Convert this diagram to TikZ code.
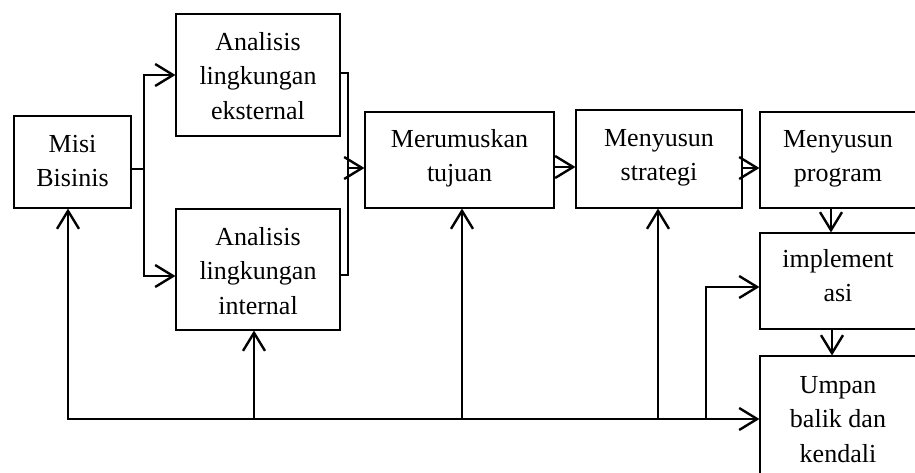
\documentclass[tikz,border=0pt]{standalone}
\usepackage{fontspec}
\setmainfont{Liberation Serif}
\usetikzlibrary{arrows.meta}
\begin{document}
\begin{tikzpicture}[x=1pt,y=-1pt,
  box/.style={draw, line width=1.1pt, inner sep=0pt},
  txt/.style={inner sep=0pt, anchor=base, font=\fontsize{26}{34.5}\selectfont},
  conn/.style={line width=2.4pt},
  barb/.tip={Straight Barb[length=18pt,width=22pt]},
  arr/.style={conn, -barb}]
\clip (0,0) rectangle (915,472);
% boxes
\node[box, minimum width=117pt, minimum height=92pt]  (misi) at (72.5,162) {};
\node[box, minimum width=164pt, minimum height=122pt] (eks)  at (258,75) {};
\node[box, minimum width=164pt, minimum height=121pt] (int)  at (258,269.5) {};
\node[box, minimum width=189pt, minimum height=96pt]  (mer)  at (459.5,160) {};
\node[box, minimum width=166pt, minimum height=98pt]  (str)  at (659,159) {};
\node[box, minimum width=157pt, minimum height=96pt]  (prog) at (838.5,160) {};
\node[box, minimum width=157pt, minimum height=96pt]  (impl) at (838.5,281) {};
\node[box, minimum width=157pt, minimum height=134pt] (ump)  at (838.5,423) {};
% texts
\node[txt] (misiT) at (72.5,152) {\begin{tabular}[t]{@{}c@{}}Misi\\Bisinis\end{tabular}};
\node[txt] (eksT)  at (258,50) {\begin{tabular}[t]{@{}c@{}}Analisis\\lingkungan\\eksternal\end{tabular}};
\node[txt] (intT)  at (258,245) {\begin{tabular}[t]{@{}c@{}}Analisis\\lingkungan\\internal\end{tabular}};
\node[txt] (merT)  at (459.5,147) {\begin{tabular}[t]{@{}c@{}}Merumuskan\\tujuan\end{tabular}};
\node[txt] (strT)  at (659,146) {\begin{tabular}[t]{@{}c@{}}Menyusun\\strategi\end{tabular}};
\node[txt] (progT) at (838,147) {\begin{tabular}[t]{@{}c@{}}Menyusun\\program\end{tabular}};
\node[txt] (implT) at (838,267) {\begin{tabular}[t]{@{}c@{}}implement\\asi\end{tabular}};
\node[txt] (umpT)  at (838,393) {\begin{tabular}[t]{@{}c@{}}Umpan\\balik dan\\kendali\end{tabular}};
% junctions
\coordinate (j1) at (144,169);
\coordinate (jt) at (144,75);
\coordinate (jb) at (144,276);
\coordinate (k1) at (348,73);
\coordinate (k2) at (348,275);
\coordinate (k3) at (348,168);
\coordinate (b0) at (68,419);
\coordinate (b1) at (254,419);
\coordinate (b2) at (462,419);
\coordinate (b3) at (658,419);
\coordinate (b4) at (706,420);
\coordinate (b5) at (706,287);
% connectors
\draw[arr] (misi.east |- j1) -- (j1) -- (jt) -- (eks.west |- jt);
\draw[arr] (j1) -- (jb) -- (int.west |- jb);
\draw[conn] (eks.east |- k1) -- (k1) -- (k2) -- (int.east |- k2);
\draw[arr] (k3) -- (mer.west |- k3);
\draw[arr] ([yshift=-7pt]mer.east) -- ([yshift=-7pt]mer.east -| str.west);
\draw[arr] ([yshift=-9pt]str.east) -- ([yshift=-9pt]str.east -| prog.west);
\draw[arr] ([xshift=-7.5pt]prog.south) -- ([xshift=-7.5pt]prog.south |- impl.north);
\draw[arr] ([xshift=-6.5pt]impl.south) -- ([xshift=-6.5pt]impl.south |- ump.north);
\draw[conn, barb-barb] (misi.south -| b0) -- (b0) -- (ump.west |- b0);
\draw[arr] (b1) -- (int.south -| b1);
\draw[arr] (b2) -- (mer.south -| b2);
\draw[arr] (b3) -- (str.south -| b3);
\draw[arr] (b4) -- (b5) -- (impl.west |- b5);
\end{tikzpicture}
\end{document}
